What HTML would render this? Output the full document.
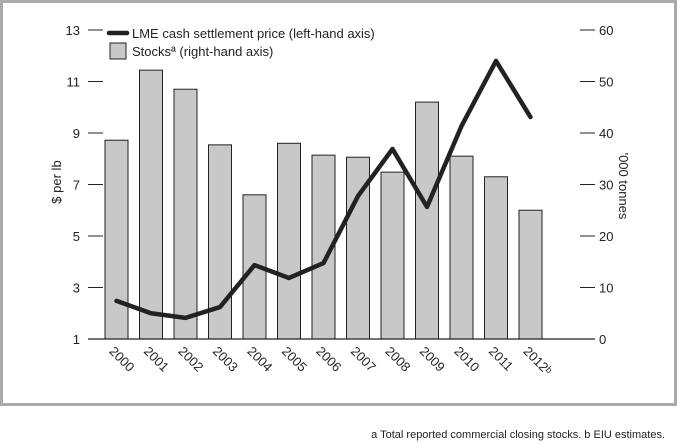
<!DOCTYPE html>
<html><head><meta charset="utf-8"><style>
html,body{margin:0;padding:0;background:#fff}
svg{display:block;font-family:"Liberation Sans",sans-serif}
</style></head><body>
<svg id="chart" width="677" height="443">
<rect x="1.5" y="1.5" width="674" height="403" fill="none" stroke="#aaa" stroke-width="3"/>
<g id="g"></g>
<text x="665" y="438" text-anchor="end" font-size="11" fill="#222">a Total reported commercial closing stocks.  b EIU estimates.</text>
</svg>
<script>
const years=["2000","2001","2002","2003","2004","2005","2006","2007","2008","2009","2010","2011","2012ᵇ"];
const stocks=[38.6,52.2,48.5,37.7,28,38,35.7,35.3,32.4,46,35.5,31.5,25];
const price=[2.48,2.0,1.82,2.24,3.87,3.37,3.95,6.55,8.38,6.13,9.27,11.8,9.62];
const leftTicks=[1,3,5,7,9,11,13];
const rightTicks=[0,10,20,30,40,50,60];
const g=document.getElementById('g');const NS="http://www.w3.org/2000/svg";
function mk(t,a,txt){const e=document.createElementNS(NS,t);for(const k in a)e.setAttribute(k,a[k]);if(txt!==undefined)e.textContent=txt;g.appendChild(e);return e;}
const yL=v=>339-(v-1)*(309/12);
const yR=v=>339-v*(309/60);
const xC=i=>116.5+i*34.5;
leftTicks.forEach(v=>{
 let l=mk('line',{x1:88,x2:103,y1:yL(v),y2:yL(v),stroke:'#222','stroke-width':1});
 
 
 let t=mk('text',{x:80,y:yL(v)+5,'text-anchor':'end','font-size':13,fill:'#222'},v);
 
 
});
rightTicks.forEach(v=>{
 let l=mk('line',{x1:580,x2:595,y1:yR(v),y2:yR(v),stroke:'#222','stroke-width':1});
 
 
 let t=mk('text',{x:599,y:yR(v)+5,'font-size':13,fill:'#222'},v);
 
 
});
stocks.forEach((v,i)=>{
 let r=mk('rect',{x:xC(i)-11.5,y:yR(v),width:23,height:339-yR(v),fill:'#c8c8c8',stroke:'#222','stroke-width':1});
 
 
});
let base=mk('line',{x1:88,x2:595,y1:339,y2:339,stroke:'#222','stroke-width':1.2});


let pl=mk('polyline',{points:price.map((v,i)=>xC(i)+','+yL(v)).join(' '),fill:'none',stroke:'#222','stroke-width':4.5,'stroke-linejoin':'round','stroke-linecap':'round'});


years.forEach((y,i)=>{
 const x=xC(i)-8,yy=352;
 let t=mk('text',{x:x,y:yy,'font-size':13,fill:'#222',transform:`rotate(45 ${x} ${yy})`},y);
 
 
});
let a1=mk('text',{x:0,y:0,'font-size':13,fill:'#222','text-anchor':'middle',transform:'translate(61,182) rotate(-90)'},'$ per lb');


let a2=mk('text',{x:0,y:0,'font-size':13,fill:'#222','text-anchor':'middle',transform:'translate(619,186) rotate(90)'},"'000 tonnes");


let ll=mk('line',{x1:109,x2:127,y1:33,y2:33,stroke:'#222','stroke-width':4.5,'stroke-linecap':'round'});


let lt=mk('text',{x:132,y:38,'font-size':13,fill:'#222'},'LME cash settlement price (left-hand axis)');


let lb=mk('rect',{x:110,y:43,width:16,height:16,fill:'#c8c8c8',stroke:'#222','stroke-width':1});


let lt2=mk('text',{x:132,y:56,'font-size':13,fill:'#222'},'Stocksª (right-hand axis)');


</script>
</body></html>
